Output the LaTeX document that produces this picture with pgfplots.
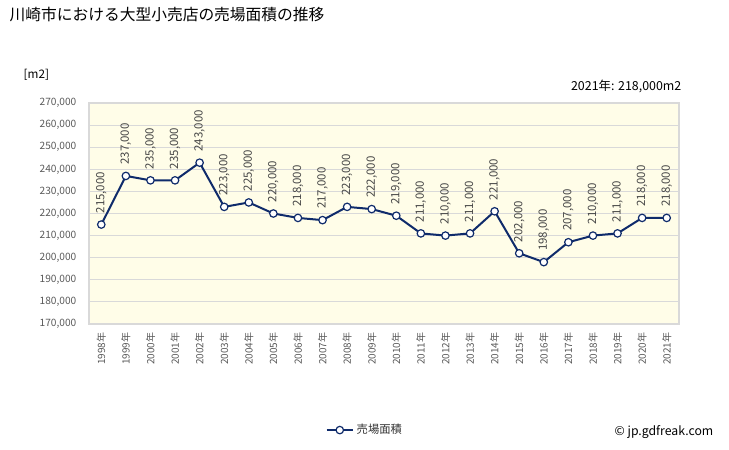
\documentclass[border=0pt]{standalone}
\usepackage{pgfplots}
\pgfplotsset{compat=1.18}
\usepackage{fontspec}
\setmainfont{Noto Sans CJK JP}
\definecolor{navy}{HTML}{0F2B6B}
\definecolor{bgy}{HTML}{FFFDE8}
\definecolor{gridc}{HTML}{D9D9D9}
\definecolor{tickc}{HTML}{595959}
\begin{document}
\begin{tikzpicture}
\useasboundingbox (0pt,0pt) rectangle (546.75pt,337.5pt);
\begin{scope}[x=0.75pt,y=0.75pt]
\node[anchor=west,font=\fontsize{11.8pt}{13pt}\selectfont] at (5,435) {川崎市における大型小売店の売場面積の推移};
\node[anchor=west,font=\fontsize{8.8pt}{10pt}\selectfont] at (19,375) {[m2]};
\node[anchor=east,font=\fontsize{9.3pt}{10pt}\selectfont] at (686,364) {2021年: 218,000m2};
\node[anchor=east,font=\fontsize{9.2pt}{10pt}\selectfont] at (718,18) {© jp.gdfreak.com};
\end{scope}
\begin{axis}[
  at={(66.75pt,94.5pt)}, anchor=south west,
  scale only axis, width=442.5pt, height=165.75pt,
  xmin=-0.5, xmax=23.5, ymin=170000, ymax=270000,
  ytick={170000,180000,...,270000},
  xtick={0,...,23},
  xticklabels={1998年,1999年,2000年,2001年,2002年,2003年,2004年,2005年,2006年,2007年,2008年,2009年,2010年,2011年,2012年,2013年,2014年,2015年,2016年,2017年,2018年,2019年,2020年,2021年},
  xticklabel style={rotate=90, anchor=east, font=\fontsize{7.5pt}{8pt}\selectfont, text=tickc},
  xticklabel shift=3pt,
  yticklabel style={font=\fontsize{7.6pt}{8pt}\selectfont, text=tickc},
  yticklabel shift=6pt,
  scaled y ticks=false,
  /pgf/number format/.cd, fixed, 1000 sep={,}, assume math mode=true,
  /pgfplots/.cd,
  major tick length=0pt,
  ymajorgrids, grid style={gridc, line width=0.6pt},
  axis line style={gridc, line width=0.8pt},
  axis background/.style={fill=bgy},
  nodes near coords,
  every node near coord/.append style={rotate=90, anchor=west, font=\fontsize{8.6pt}{9pt}\selectfont, text=black!72, inner xsep=8pt, inner ysep=1pt},
  legend style={at={(0.468,-0.48)}, anchor=center, draw=none, fill=none, font=\fontsize{8.5pt}{9pt}\selectfont, text=black!80},
  legend image code/.code={\draw[#1] (0pt,0pt) -- (0.7cm,0pt); \draw[#1, mark repeat=1] plot coordinates {(0.35cm,0pt)};},
]
\addplot[color=navy, line width=1.5pt, mark=*, mark size=2.8pt, mark options={fill=white, draw=navy, line width=0.9pt}] coordinates {
(0,215000) (1,237000) (2,235000) (3,235000) (4,243000) (5,223000) (6,225000) (7,220000) (8,218000) (9,217000) (10,223000) (11,222000) (12,219000) (13,211000) (14,210000) (15,211000) (16,221000) (17,202000) (18,198000) (19,207000) (20,210000) (21,211000) (22,218000) (23,218000)};
\addlegendentry{売場面積}
\end{axis}
\end{tikzpicture}
\end{document}
